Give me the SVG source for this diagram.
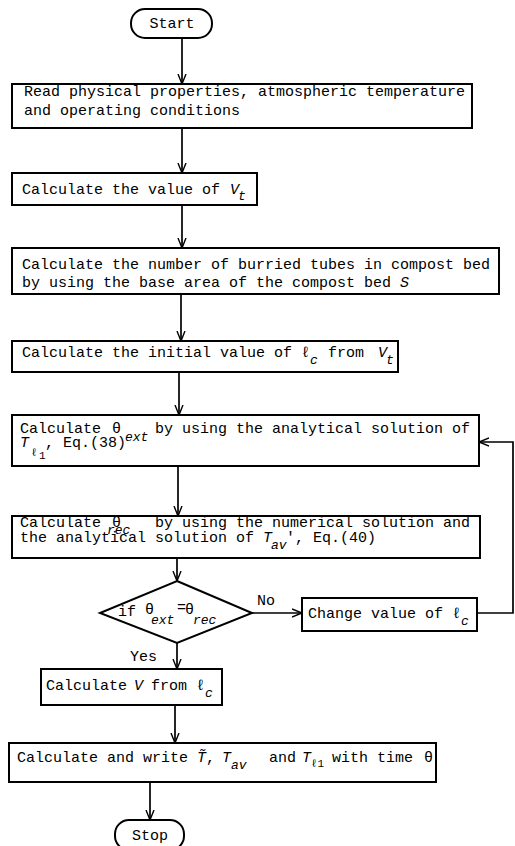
<svg xmlns="http://www.w3.org/2000/svg" width="515" height="846" viewBox="0 0 515 846">
<style>
  .box{fill:#fff;stroke:#000;stroke-width:2}
  .ln{fill:none;stroke:#000;stroke-width:1.7}
  text{font-family:"Liberation Mono","DejaVu Sans Mono",monospace;font-size:15px;fill:#000}
  .m{font-style:italic}
  .s{font-style:italic;font-size:13px}
  .ss{font-size:11px}
</style>
<defs>
  <marker id="ah" viewBox="0 0 10 10" refX="10" refY="5" markerWidth="10" markerHeight="10" markerUnits="userSpaceOnUse" orient="auto">
    <path d="M0,1 L10,5 L0,9" fill="none" stroke="#000" stroke-width="1.4"/>
  </marker>
</defs>
<rect width="515" height="846" fill="#fff"/>

<g id="connectors">
  <path class="ln" d="M182,38 V84" marker-end="url(#ah)"/>
  <path class="ln" d="M182,128 V173" marker-end="url(#ah)"/>
  <path class="ln" d="M182,205 V248" marker-end="url(#ah)"/>
  <path class="ln" d="M181,294 V341" marker-end="url(#ah)"/>
  <path class="ln" d="M179,372 V415" marker-end="url(#ah)"/>
  <path class="ln" d="M178,466 V516" marker-end="url(#ah)"/>
  <path class="ln" d="M177,558 V581" marker-end="url(#ah)"/>
  <path class="ln" d="M252,613 H302" marker-end="url(#ah)"/>
  <path class="ln" d="M477,613 H513 V442 H479" marker-end="url(#ah)"/>
  <path class="ln" d="M177,643 V669" marker-end="url(#ah)"/>
  <path class="ln" d="M175,705 V743" marker-end="url(#ah)"/>
  <path class="ln" d="M150,782 V820" marker-end="url(#ah)"/>
  <text x="257" y="605">No</text>
  <text x="130" y="661">Yes</text>
</g>

<g id="start">
  <rect class="box" x="131" y="9" width="81" height="29" rx="14"/>
  <text x="172" y="28" text-anchor="middle">Start</text>
</g>

<g id="read">
  <rect class="box" x="12" y="84" width="460" height="44"/>
  <text x="24" y="96">Read physical properties, atmospheric temperature</text>
  <text x="24" y="115">and operating conditions</text>
</g>

<g id="vt">
  <rect class="box" x="12" y="173" width="245" height="32"/>
  <text x="22" y="194">Calculate the value of</text>
  <text class="m" x="230" y="194">V</text>
  <text class="s" x="238" y="200">t</text>
</g>

<g id="tubes">
  <rect class="box" x="12" y="248" width="487" height="46"/>
  <text x="22" y="269">Calculate the number of burried tubes in compost bed</text>
  <text x="22" y="287">by using the base area of the compost bed</text>
  <text class="m" x="400" y="287">S</text>
</g>

<g id="initlc">
  <rect class="box" x="12" y="341" width="386" height="31"/>
  <text x="22" y="357">Calculate the initial value of</text>
  <text x="301" y="357">ℓ</text>
  <text class="s" x="310" y="364">c</text>
  <text x="328" y="357">from</text>
  <text class="m" x="378" y="357">V</text>
  <text class="s" x="386" y="364">t</text>
</g>

<g id="thetaext">
  <rect class="box" x="12" y="415" width="467" height="51"/>
  <text x="20" y="433">Calculate</text>
  <text x="112" y="433">θ</text>
  <text x="155" y="433">by using the analytical solution of</text>
  <text class="m" x="20" y="447">T</text>
  <text class="ss" x="31" y="456">ℓ</text>
  <text class="ss" x="39" y="459">1</text>
  <text x="45" y="447">, Eq.(38)</text>
  <text class="s" x="125" y="441">ext</text>
</g>

<g id="thetarec">
  <rect class="box" x="12" y="516" width="468" height="42"/>
  <text x="20" y="527">Calculate</text>
  <text x="112" y="527">θ</text>
  <text class="s" x="107" y="534" font-size="12">rec</text>
  <text x="155" y="527">by using the numerical solution and</text>
  <text x="20" y="542">the analytical solution of</text>
  <text class="m" x="263" y="542">T</text>
  <text class="s" x="271" y="549">av</text>
  <text x="286" y="542">', Eq.(40)</text>
</g>

<g id="decision">
  <polygon class="box" points="177,581 252,613 177,643 100,613"/>
  <text x="118" y="616">if</text>
  <text x="145" y="614">θ</text>
  <text class="s" x="151" y="624">ext</text>
  <text x="177" y="612" font-size="12">=</text>
  <text x="185" y="614">θ</text>
  <text class="s" x="193" y="624">rec</text>
</g>

<g id="change">
  <rect class="box" x="302" y="598" width="175" height="33"/>
  <text x="308" y="618">Change value of</text>
  <text x="452" y="618">ℓ</text>
  <text class="s" x="461" y="625">c</text>
</g>

<g id="calcv">
  <rect class="box" x="41" y="669" width="181" height="36"/>
  <text x="46" y="690">Calculate</text>
  <text class="m" x="134" y="690">V</text>
  <text x="151" y="690">from</text>
  <text x="196" y="690">ℓ</text>
  <text class="s" x="205" y="697">c</text>
</g>

<g id="write">
  <rect class="box" x="9" y="743" width="427" height="39"/>
  <text x="17" y="762">Calculate and write</text>
  <text class="m" x="197" y="762">T&#x303;</text>
  <text x="206" y="762">,</text>
  <text class="m" x="222" y="762">T</text>
  <text class="s" x="231" y="769">av</text>
  <text x="269" y="762">and</text>
  <text class="m" x="302" y="762">T</text>
  <text class="ss" x="311" y="767">ℓ1</text>
  <text x="332" y="762">with time</text>
  <text x="424" y="762">θ</text>
</g>

<g id="stop">
  <rect class="box" x="115" y="820" width="69" height="30" rx="14"/>
  <text x="150" y="840" text-anchor="middle">Stop</text>
</g>
</svg>
